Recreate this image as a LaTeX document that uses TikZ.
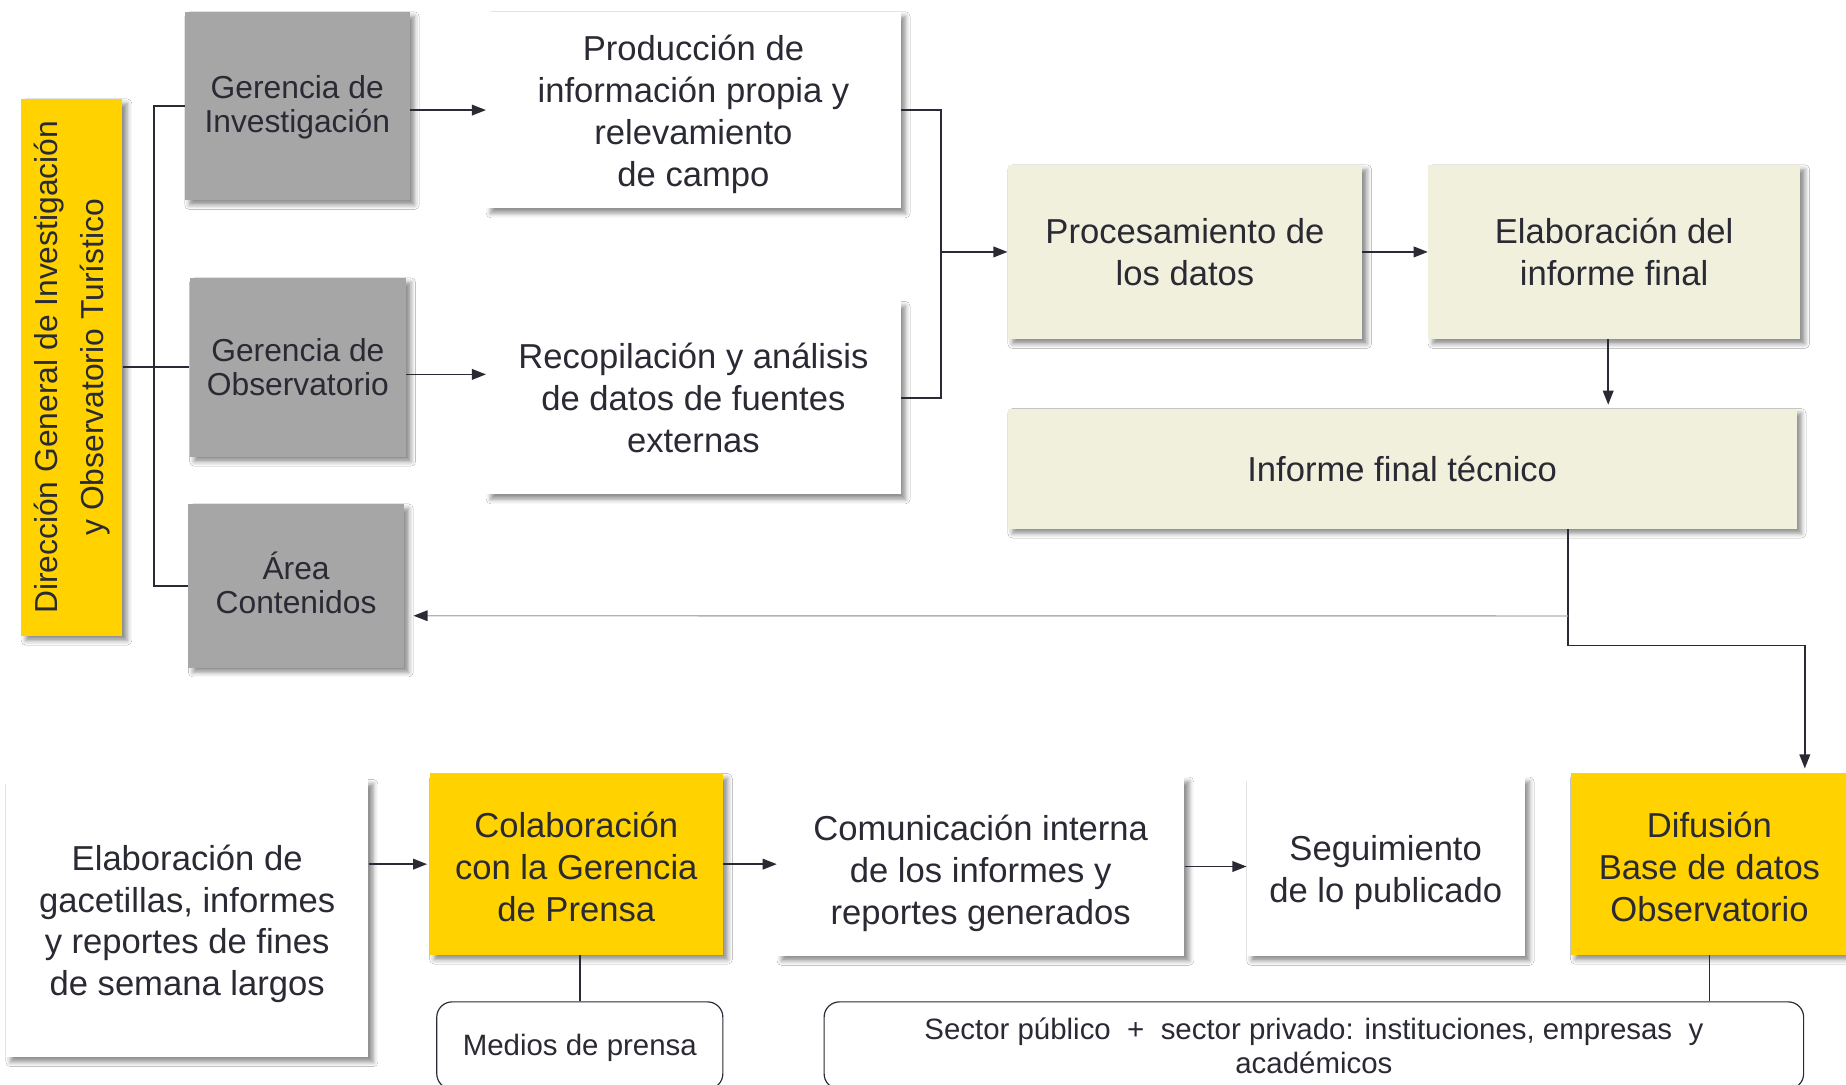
\documentclass[tikz,border=0pt]{standalone}
\usepackage{fontspec}
\setmainfont{Liberation Sans}
\usetikzlibrary{arrows.meta,shadows,shadows.blur,calc}
\definecolor{ink}{RGB}{42,42,52}
\definecolor{ybox}{RGB}{255,210,0}
\definecolor{gbox}{RGB}{166,166,166}
\definecolor{bbox}{RGB}{241,240,220}
\definecolor{lgray}{RGB}{178,178,184}
\newcommand{\myup}[1]{\rule{0pt}{#1pt}}
\newcommand{\mydn}[1]{\rule[-#1pt]{0pt}{#1pt}}
\begin{document}
\begin{tikzpicture}[x=1pt,y=-1pt,
  box/.style={inner sep=0pt, align=center, text=ink,
    blur shadow={shadow xshift=4pt, shadow yshift=-4pt, shadow blur radius=4pt, shadow opacity=45}},
  gerbox/.style={box, fill=gbox, font=\fontsize{27}{28.5}\selectfont},
  whitebox/.style={box, fill=white, font=\fontsize{29.4}{35.5}\selectfont},
  beigebox/.style={box, fill=bbox, font=\fontsize{29.4}{35.5}\selectfont},
  yelbox/.style={box, fill=ybox, font=\fontsize{29.4}{35.5}\selectfont},
  roundbox/.style={draw=ink, line width=1pt, rounded corners=13pt, fill=white, inner sep=0pt,
    align=center, text=ink, font=\fontsize{25}{29}\selectfont},
  conn/.style={draw=ink, line width=1.5pt},
  arr/.style={draw=ink, line width=1.5pt, -{Triangle[length=12pt,width=9pt]}},
  grayarr/.style={draw=lgray, line width=1.2pt, -{Triangle[length=12pt,width=9pt,color=ink]}}
]
\useasboundingbox (0,0) rectangle (1568,921);
\fill[white] (0,0) rectangle (1568,921);

% left column
\node[box, fill=ybox, minimum width=86pt, minimum height=456pt] (dir) at (61,312) {};
\node[rotate=90, align=center, text=ink, inner sep=0pt, font=\fontsize{27}{39}\selectfont] (dirtext) at (dir.center)
  {Dirección General de Investigación\\y Observatorio Turístico};

\node[gerbox, minimum width=191pt, minimum height=160pt] (gi) at (252.5,90) {\myup{22}Gerencia de\\Investigación};
\node[gerbox, minimum width=184pt, minimum height=152pt] (go) at (253,312) {Gerencia de\\Observatorio};
\node[gerbox, minimum width=183pt, minimum height=139pt] (ac) at (251.5,497.5) {Área\\Contenidos\mydn{5}};

% second column
\node[whitebox, minimum width=352pt, minimum height=167pt] (prod) at (589,93.5)
  {\myup{29}Producción de\\información propia y\\relevamiento\\de campo};
\node[whitebox, minimum width=352pt, minimum height=164pt] (reco) at (589,338)
  {Recopilación y análisis\\de datos de fuentes\\externas};

% processing
\node[beigebox, minimum width=301pt, minimum height=148pt] (proc) at (1006.5,214) {Procesamiento de\\los datos};
\node[beigebox, minimum width=316pt, minimum height=148pt] (elab) at (1371,214) {Elaboración del\\informe final};
\node[beigebox, minimum width=670pt, minimum height=102pt] (inf) at (1191,398) {Informe final técnico};

% bottom row
\node[whitebox, minimum width=308pt, minimum height=236pt] (gac) at (159,780)
  {\myup{31}Elaboración de\\gacetillas, informes\\y reportes de fines\\de semana largos};
\node[yelbox, minimum width=249pt, minimum height=154pt] (col) at (489.5,734)
  {\myup{26}Colaboración\\con la Gerencia\\de Prensa};
\node[whitebox, minimum width=346pt, minimum height=152pt] (com) at (833,736)
  {\myup{33}Comunicación interna\\de los informes y\\reportes generados};
\node[whitebox, minimum width=236pt, minimum height=152pt] (seg) at (1177,736)
  {\myup{32}Seguimiento\\de lo publicado};
\node[yelbox, minimum width=236pt, minimum height=154pt] (dif) at (1452,734)
  {\myup{26}Difusión\\Base de datos\\Observatorio};

\node[roundbox, minimum width=243pt, minimum height=74pt] (med) at (492.5,888) {\myup{22}Medios de prensa};
\node[roundbox, minimum width=832pt, minimum height=74pt] (sec) at (1116,888)
  {Sector público\ \ +\ \ sector privado: instituciones, empresas\ \ y\\académicos};

% connectors: left bracket
\draw[conn] (gi.west) -- ++(-26,0) |- (ac.west);
\draw[conn] (dir.east) -- (go.west);

\draw[arr] (prod.west -| gi.east) -- (prod.west);
\draw[arr] ($(go.east)+(0,6)$) -- ($(go.east -| reco.west)+(0,6)$);

\draw[conn] (prod.east) -- ++(34,0) |- (reco.east);
\coordinate (j1) at ($(prod.east)+(34,120.5)$);
\draw[arr] (j1) -- (proc.west);
\draw[arr] (proc.east) -- (elab.west);
\coordinate (e1) at ($(elab.south)+(-5,0)$);
\draw[arr, shorten >=3pt] (e1) -- (e1 |- inf.north);

\coordinate (i1) at ($(inf.south)+(141,0)$);
\coordinate (d1) at ($(dif.north)+(81,0)$);
\draw[arr, shorten >=4pt] (i1) -- ++(0,99) -| (d1);
\draw[grayarr] ($(i1)+(0,74)$) -- ($(ac.east)+(8,25.5)$);

% bottom connectors
\draw[arr, shorten >=2pt] (gac.east |- col.west) -- (col.west);
\draw[arr] (col.east) -- (col.east -| com.west);
\draw[arr] (com.east) -- (com.east -| seg.west);
\draw[conn] (col.south) ++(3,0) -- ($(col.south |- med.north)+(3,0)$);
\draw[conn] (dif.south) -- (dif.south |- sec.north);
\end{tikzpicture}
\end{document}
